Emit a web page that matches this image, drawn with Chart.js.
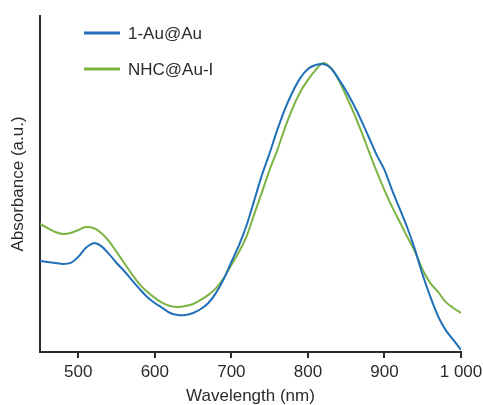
<!DOCTYPE html>
<html>
<head>
<meta charset="utf-8">
<script src="https://cdn.jsdelivr.net/npm/chart.js@4"></script>
<style>
  html, body { margin: 0; padding: 0; background: #fff; }
  #wrap { width: 483px; height: 405px; }
</style>
</head>
<body>
<div id="wrap"><canvas id="absChart"></canvas></div>
<script>
// wavelength grid (nm)
const wavelengths = [450, 460, 470, 480, 490, 500, 510, 520, 530, 540,
  550, 560, 570, 580, 590, 600, 610, 620, 630, 640,
  650, 660, 670, 680, 690, 700, 710, 720, 730, 740,
  750, 760, 770, 780, 790, 800, 810, 820, 830, 840,
  850, 860, 870, 880, 890, 900, 910, 920, 930, 940,
  950, 960, 970, 980, 990, 1000];

// 1-Au@Au absorbance (a.u.)
const auAu = [0.271, 0.268, 0.265, 0.262, 0.265, 0.283, 0.310, 0.324, 0.315, 0.292,
  0.265, 0.241, 0.214, 0.188, 0.164, 0.146, 0.131, 0.116, 0.110, 0.110,
  0.116, 0.128, 0.146, 0.176, 0.217, 0.268, 0.318, 0.378, 0.452, 0.527,
  0.592, 0.661, 0.723, 0.774, 0.815, 0.842, 0.854, 0.857, 0.845, 0.813,
  0.777, 0.735, 0.688, 0.637, 0.586, 0.542, 0.482, 0.426, 0.369, 0.304,
  0.229, 0.164, 0.107, 0.065, 0.036, 0.006];

// NHC@Au-I absorbance (a.u.)
const nhcAu = [0.381, 0.369, 0.357, 0.351, 0.354, 0.363, 0.372, 0.369, 0.354, 0.330,
  0.298, 0.265, 0.232, 0.202, 0.179, 0.161, 0.146, 0.137, 0.134, 0.137,
  0.143, 0.155, 0.170, 0.190, 0.220, 0.259, 0.298, 0.345, 0.411, 0.476,
  0.542, 0.601, 0.667, 0.726, 0.774, 0.810, 0.839, 0.860, 0.845, 0.810,
  0.762, 0.711, 0.655, 0.595, 0.536, 0.482, 0.432, 0.387, 0.342, 0.298,
  0.244, 0.205, 0.179, 0.149, 0.131, 0.116];

const xTicks = [500, 600, 700, 800, 900, 1000];

const FONT = '"Liberation Sans", Arial, sans-serif';
const INK = '#2b2b2b';

// legend drawn inside the plot, top-left
const insideLegend = {
  id: 'insideLegend',
  afterDraw(chart) {
    const ctx = chart.ctx;
    ctx.save();
    ctx.font = '17px ' + FONT;
    ctx.textBaseline = 'middle';
    chart.data.datasets.forEach((ds, i) => {
      const y = 33 + i * 36;
      ctx.strokeStyle = ds.borderColor;
      ctx.lineWidth = 3;
      ctx.beginPath();
      ctx.moveTo(84, y);
      ctx.lineTo(120, y);
      ctx.stroke();
      ctx.fillStyle = INK;
      ctx.fillText(ds.label, 128, y + 1);
    });
    ctx.restore();
  }
};

const toXY = arr => arr.map((v, i) => ({ x: wavelengths[i], y: v }));

new Chart(document.getElementById('absChart'), {
  type: 'line',
  data: {
    datasets: [
      { label: '1-Au@Au',  data: toXY(auAu),  borderColor: '#1f70b8', borderWidth: 2, pointRadius: 0, tension: 0.3 },
      { label: 'NHC@Au-I', data: toXY(nhcAu), borderColor: '#7cb342', borderWidth: 2, pointRadius: 0, tension: 0.3 }
    ]
  },
  options: {
    responsive: true,
    maintainAspectRatio: false,
    animation: false,
    layout: { padding: { top: 16, right: 22, left: 0, bottom: 0 } },
    plugins: { legend: { display: false }, tooltip: { enabled: false } },
    scales: {
      x: {
        type: 'linear',
        min: 450,
        max: 1000,
        afterBuildTicks: s => { s.ticks = xTicks.map(v => ({ value: v })); },
        afterFit: s => { s.height = 53; s.paddingRight = 0; s.paddingLeft = 0; },
        grid: { drawOnChartArea: false, drawTicks: true, tickLength: 6, color: INK, lineWidth: 2 },
        border: { display: true, color: INK, width: 2 },
        ticks: {
          color: INK,
          padding: 4,
          font: { family: FONT, size: 17 },
          maxRotation: 0,
          callback: v => v === 1000 ? '1 000' : String(v)
        },
        title: {
          display: true,
          text: 'Wavelength (nm)',
          color: INK,
          font: { family: FONT, size: 17, lineHeight: 1 },
          padding: { top: 0, bottom: 0 }
        }
      },
      y: {
        min: 0,
        max: 1,
        afterFit: s => { s.width = 40; },
        grid: { display: false },
        border: { display: true, color: INK, width: 2 },
        ticks: { display: false },
        title: {
          display: true,
          text: 'Absorbance (a.u.)',
          color: INK,
          font: { family: FONT, size: 17, lineHeight: 1.2 },
          padding: { top: 8, bottom: 0 }
        }
      }
    }
  },
  plugins: [insideLegend]
});
</script>
</body>
</html>
